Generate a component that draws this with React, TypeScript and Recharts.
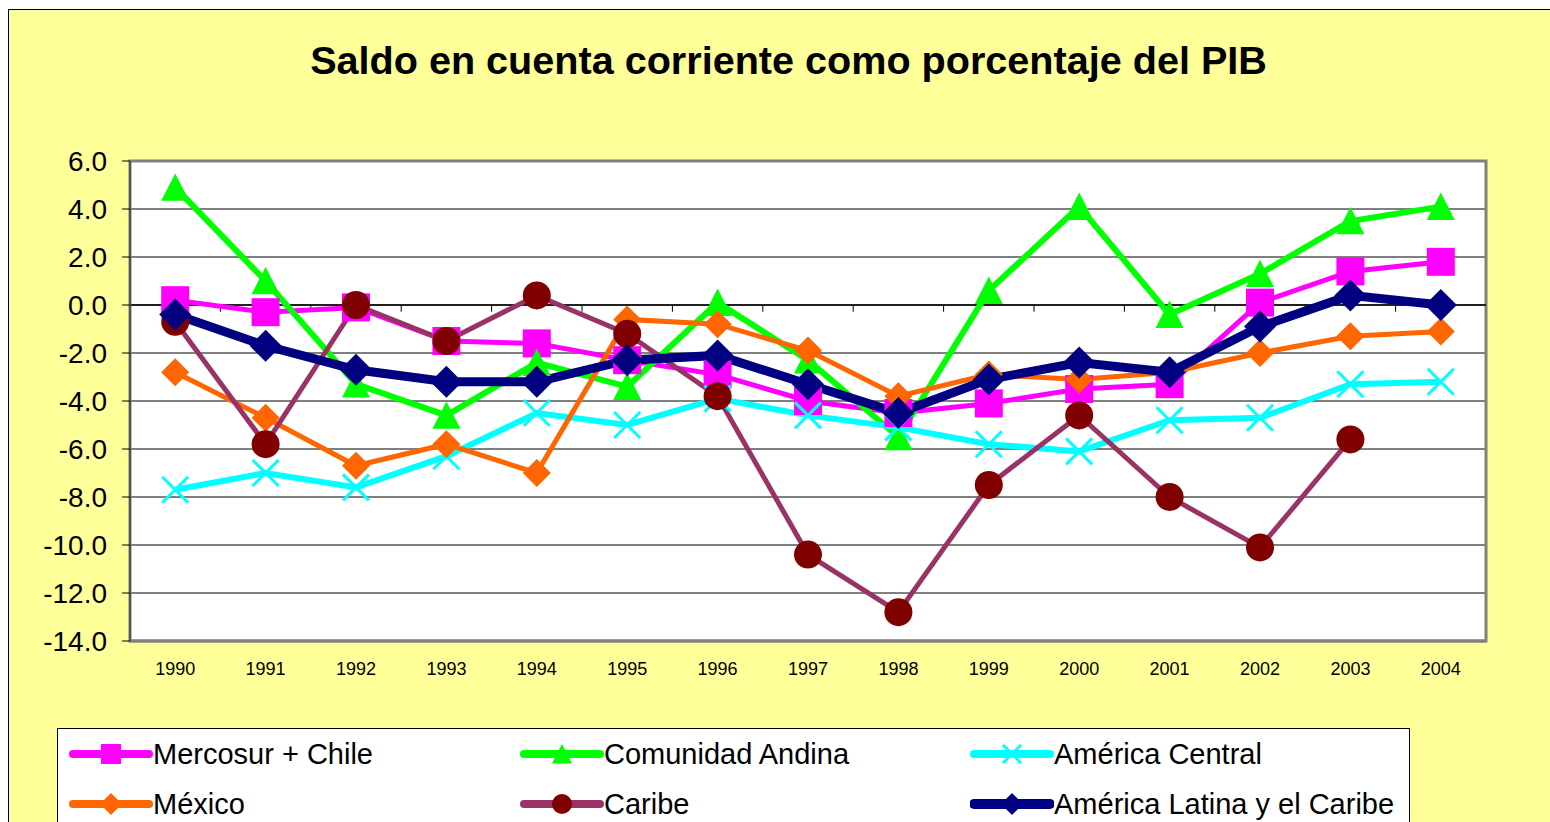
import { LineChart, Line, XAxis, YAxis, CartesianGrid, ReferenceLine, ReferenceArea } from 'recharts';

const years = ['1990', '1991', '1992', '1993', '1994', '1995', '1996', '1997', '1998', '1999', '2000', '2001', '2002', '2003', '2004'];

// saldo en cuenta corriente, % del PIB
const mercosur = [0.2, -0.3, -0.1, -1.5, -1.6, -2.3, -2.9, -4.0, -4.5, -4.1, -3.5, -3.3, 0.1, 1.4, 1.8];
const andina = [4.9, 1.0, -3.3, -4.6, -2.4, -3.4, 0.1, -2.3, -5.5, 0.6, 4.1, -0.4, 1.3, 3.5, 4.1];
const central = [-7.7, -7.0, -7.6, -6.3, -4.5, -5.0, -3.9, -4.6, -5.1, -5.8, -6.1, -4.8, -4.7, -3.3, -3.2];
const mexico = [-2.8, -4.7, -6.7, -5.8, -7.0, -0.6, -0.8, -1.9, -3.8, -2.9, -3.1, -2.8, -2.0, -1.3, -1.1];
const caribe = [-0.7, -5.8, 0.0, -1.5, 0.4, -1.2, -3.8, -10.4, -12.8, -7.5, -4.6, -8.0, -10.1, -5.6, null];
const alc = [-0.4, -1.7, -2.7, -3.2, -3.2, -2.3, -2.1, -3.3, -4.5, -3.1, -2.4, -2.8, -0.9, 0.4, 0.0];

const yTicks = [-14, -12, -10, -8, -6, -4, -2, 0, 2, 4, 6];

const FONT = '"Liberation Sans", Arial, sans-serif';

const idx = years.map((_, i) => i);
const data = years.map((year, i) => ({
  i,
  year,
  mercosur: mercosur[i],
  andina: andina[i],
  central: central[i],
  mexico: mexico[i],
  caribe: caribe[i],
  alc: alc[i],
}));

// small tick marks on the zero line, between categories
const boundaries = years.slice(1).map((_, i) => i + 0.5);

type Shape = 'square' | 'triangle' | 'x' | 'diamond' | 'circle';

const drawMarker = (shape: Shape, cx: number, cy: number, s: number, color: string, key?: any) => {
  if (shape === 'square') {
    return <rect key={key} x={cx - s} y={cy - s} width={s * 2} height={s * 2} fill={color} />;
  }
  if (shape === 'triangle') {
    return <polygon key={key} points={`${cx},${cy - s} ${cx + s},${cy + s * 0.95} ${cx - s},${cy + s * 0.95}`} fill={color} />;
  }
  if (shape === 'diamond') {
    return <polygon key={key} points={`${cx},${cy - s} ${cx + s},${cy} ${cx},${cy + s} ${cx - s},${cy}`} fill={color} />;
  }
  if (shape === 'circle') {
    return <circle key={key} cx={cx} cy={cy} r={s} fill={color} />;
  }
  return (
    <g key={key} stroke={color} strokeWidth={3}>
      <line x1={cx - s} y1={cy - s} x2={cx + s} y2={cy + s} />
      <line x1={cx - s} y1={cy + s} x2={cx + s} y2={cy - s} />
    </g>
  );
};

const dotFor = (shape: Shape, color: string, size: number) => (props: any) => {
  const { cx, cy, index, value } = props;
  if (cx == null || cy == null || value == null) return <g key={`e-${index}`} />;
  return drawMarker(shape, cx, cy, size, color, `d-${index}`);
};

const series = [
  { key: 'mercosur', name: 'Mercosur + Chile', line: '#FF00FF', mark: '#FF00FF', shape: 'square' as Shape, width: 5, size: 14, legendSize: 10 },
  { key: 'andina', name: 'Comunidad Andina', line: '#00FF00', mark: '#00FF00', shape: 'triangle' as Shape, width: 6, size: 14, legendSize: 10 },
  { key: 'central', name: 'América Central', line: '#00FFFF', mark: '#00FFFF', shape: 'x' as Shape, width: 6, size: 13, legendSize: 9 },
  { key: 'mexico', name: 'México', line: '#FF6600', mark: '#FF6600', shape: 'diamond' as Shape, width: 5, size: 14, legendSize: 11 },
  { key: 'caribe', name: 'Caribe', line: '#993366', mark: '#800000', shape: 'circle' as Shape, width: 5, size: 14, legendSize: 10 },
  { key: 'alc', name: 'América Latina y el Caribe', line: '#000080', mark: '#000080', shape: 'diamond' as Shape, width: 9, size: 16, legendSize: 11 },
];

// legend layout: columns left to right, rows top to bottom
const legendOrder = [
  ['mercosur', 'andina', 'central'],
  ['mexico', 'caribe', 'alc'],
];
const legendCols = [68, 519, 969];
const legendRows = [25, 75];

const Legend = () => (
  <div
    style={{
      position: 'absolute',
      left: 57,
      top: 728,
      width: 1351,
      height: 130,
      background: '#fff',
      border: '1px solid #000',
      fontFamily: FONT,
      fontSize: 29,
      color: '#000',
    }}
  >
    {legendOrder.map((row, r) =>
      row.map((k, c) => {
        const s = series.find((x) => x.key === k)!;
        const left = legendCols[c] - 57;
        return (
          <div key={k} style={{ position: 'absolute', left, top: legendRows[r] - 16, height: 32, display: 'flex', alignItems: 'center', whiteSpace: 'nowrap' }}>
            <svg width={84} height={32} style={{ display: 'block' }}>
              <line x1={4} y1={16} x2={80} y2={16} stroke={s.line} strokeWidth={s.key === 'alc' ? 10 : 8} strokeLinecap="round" />
              {drawMarker(s.shape, 42, 16, s.legendSize, s.mark)}
            </svg>
            <span style={{ lineHeight: '32px' }}>{s.name}</span>
          </div>
        );
      })
    )}
  </div>
);

export default function App() {
  return (
    <div style={{ position: 'absolute', left: 0, top: 0, width: 1550, height: 822, overflow: 'hidden', background: '#fff' }}>
      <div
        style={{
          position: 'absolute',
          left: 8,
          top: 9,
          width: 1600,
          height: 900,
          background: '#FFFF99',
          borderLeft: '1px solid #000',
          borderTop: '1px solid #000',
        }}
      />
      <div
        style={{
          position: 'absolute',
          left: 0,
          top: 36,
          width: 1577,
          textAlign: 'center',
          fontFamily: FONT,
          fontWeight: 'bold',
          fontSize: 39.6,
          lineHeight: '48px',
          color: '#000',
        }}
      >
        Saldo en cuenta corriente como porcentaje del PIB
      </div>
      <div style={{ position: 'absolute', left: 0, top: 0 }}>
        <LineChart width={1550} height={822} data={data} margin={{ top: 161, right: 64, bottom: 141, left: 30 }}>
          <CartesianGrid vertical={false} stroke="#000" strokeWidth={1} fill="#fff" fillOpacity={1} />
          <ReferenceArea x1={-0.5} x2={14.5} y1={-14} y2={6} fill="none" stroke="#808080" strokeWidth={3} ifOverflow="visible" />
          <XAxis
            dataKey="i"
            type="number"
            domain={[-0.5, 14.5]}
            ticks={idx}
            interval={0}
            tickFormatter={(v: number) => years[v]}
            height={40}
            tickSize={0}
            tickMargin={21}
            tickLine={false}
            axisLine={{ stroke: '#808080', strokeWidth: 3 }}
            tick={{ fontSize: 18, fill: '#000', fontFamily: FONT }}
          />
          <YAxis
            domain={[-14, 6]}
            ticks={yTicks}
            interval={0}
            width={100}
            tickSize={8}
            tickMargin={15}
            tickFormatter={(v: number) => v.toFixed(1)}
            tickLine={{ stroke: '#000' }}
            axisLine={{ stroke: '#555', strokeWidth: 2 }}
            tick={{ fontSize: 28, fill: '#000', fontFamily: FONT }}
          />
          <ReferenceLine y={0} stroke="#000" strokeWidth={1.5} />
          {boundaries.map((b) => (
            <ReferenceLine
              key={b}
              segment={[
                { x: b, y: 0 },
                { x: b, y: -0.28 },
              ]}
              stroke="#000"
              strokeWidth={1}
            />
          ))}
          {series.map((s) => (
            <Line
              key={s.key}
              type="linear"
              dataKey={s.key}
              name={s.name}
              stroke={s.line}
              strokeWidth={s.width}
              dot={dotFor(s.shape, s.mark, s.size)}
              activeDot={false}
              isAnimationActive={false}
              connectNulls={false}
            />
          ))}
        </LineChart>
      </div>
      <Legend />
    </div>
  );
}
